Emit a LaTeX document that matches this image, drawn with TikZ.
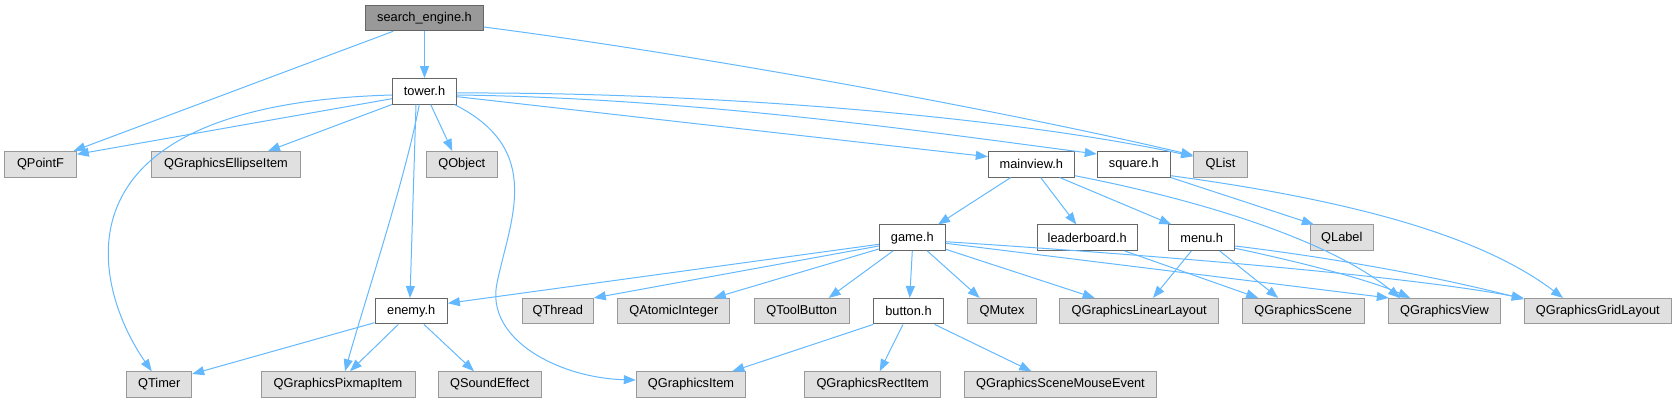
\documentclass[tikz,border=0pt]{standalone}
\usepackage{fontspec}
\setmainfont{Liberation Sans}
\usetikzlibrary{arrows.meta}
\definecolor{edgec}{HTML}{63B8FF}
\definecolor{hdrb}{HTML}{666666}
\definecolor{extb}{HTML}{999999}
\definecolor{extf}{HTML}{E0E0E0}
\definecolor{rootf}{HTML}{999999}
\begin{document}
\begin{tikzpicture}[x=1pt,y=-1pt,
  every node/.style={font=\fontsize{12.8}{15}\selectfont, inner sep=0pt, minimum height=25.5pt, line width=1pt, anchor=center},
  hdr/.style={draw=hdrb, fill=white},
  ext/.style={draw=extb, fill=extf},
  root/.style={draw=hdrb, fill=rootf},
  bw/.style={minimum width=#1pt},
  edge/.style={draw=edgec, line width=1pt, -{Triangle[length=12pt,width=9pt]}}]
\useasboundingbox (0,0) rectangle (1677,403);
% row 0
\node[root,bw=117.6] (se) at (424.5,18) {search\_engine.h};
% row 1
\node[hdr,bw=64.4] (tower) at (424.5,91.3) {tower.h};
% row 2
\node[ext,bw=71.6] (qpointf) at (40.5,164.3) {QPointF};
\node[ext,bw=148.6] (ellipse) at (226,164.3) {QGraphicsEllipseItem};
\node[ext,bw=71] (qobject) at (461.8,164.3) {QObject};
\node[hdr,bw=86] (mainview) at (1031.3,164.3) {mainview.h};
\node[hdr,bw=73] (square) at (1133.8,164.3) {square.h};
\node[ext,bw=53.6] (qlist) at (1220.5,164.3) {QList};
% row 3
\node[hdr,bw=66] (game) at (912.3,237.7) {game.h};
\node[hdr,bw=100.3] (leaderboard) at (1087.2,237.7) {leaderboard.h};
\node[hdr,bw=66] (menu) at (1201.7,237.7) {menu.h};
\node[ext,bw=63] (qlabel) at (1341.8,237.7) {QLabel};
% row 4
\node[hdr,bw=72.3] (enemy) at (411.2,311.2) {enemy.h};
\node[ext,bw=71] (qthread) at (557.8,311.2) {QThread};
\node[ext,bw=112.3] (qatomic) at (673.8,311.2) {QAtomicInteger};
\node[ext,bw=94.7] (qtool) at (801.7,311.2) {QToolButton};
\node[hdr,bw=69.6] (button) at (908.5,311.2) {button.h};
\node[ext,bw=68.6] (qmutex) at (1002,311.2) {QMutex};
\node[ext,bw=159] (linear) at (1139.2,311.2) {QGraphicsLinearLayout};
\node[ext,bw=121.7] (scene) at (1303.2,311.2) {QGraphicsScene};
\node[ext,bw=112.4] (view) at (1444.5,311.2) {QGraphicsView};
\node[ext,bw=147] (grid) at (1597.8,311.2) {QGraphicsGridLayout};
% row 5
\node[ext,bw=65] (qtimer) at (159.2,384.5) {QTimer};
\node[ext,bw=154] (pixmap) at (338,384.5) {QGraphicsPixmapItem};
\node[ext,bw=103] (sound) at (489.8,384.5) {QSoundEffect};
\node[ext,bw=109.4] (gitem) at (691,384.5) {QGraphicsItem};
\node[ext,bw=136] (rect) at (872.7,384.5) {QGraphicsRectItem};
\node[ext,bw=192.4] (mouse) at (1060.5,384.5) {QGraphicsSceneMouseEvent};
% search_engine.h
\draw[edge] (se.south) -- (tower.north);
\draw[edge] ([xshift=-31.2pt]se.south) -- ([xshift=33pt]qpointf.north);
\draw[edge] ([yshift=-9pt]se.east) .. controls (700,55) and (1000,110) .. ([yshift=9pt]qlist.west);
% tower.h
\draw[edge] ([yshift=-7.4pt]tower.west) -- ([yshift=10pt]qpointf.east);
\draw[edge] ([yshift=-3.7pt]tower.west) .. controls (40,105) and (95,290) .. ([xshift=-7.5pt]qtimer.north);
\draw[edge] (tower.south west) -- ([xshift=42pt]ellipse.north);
\draw[edge] ([xshift=6.2pt]tower.south) -- ([xshift=-9.5pt]qobject.north);
\draw[edge] ([xshift=-5.2pt]tower.south) .. controls (405,180) and (365,300) .. ([xshift=7pt]pixmap.north);
\draw[edge] ([xshift=-8.5pt]tower.south) -- ([xshift=-1.2pt]enemy.north);
\draw[edge] ([xshift=-2.7pt]tower.south east) .. controls (545,150) and (510,220) .. (497,283) .. controls (485,340) and (560,378) .. ([yshift=4.5pt]gitem.west);
\draw[edge] ([yshift=-5.4pt]tower.east) -- ([yshift=7.6pt]mainview.west);
\draw[edge] ([yshift=-3.7pt]tower.east) .. controls (700,98) and (950,135) .. ([yshift=10.3pt]square.west);
\draw[edge] ([yshift=-1.7pt]tower.east) .. controls (700,92) and (1000,115) .. ([yshift=8pt]qlist.west);
% mainview.h
\draw[edge] ([xshift=-20.6pt]mainview.south) -- ([xshift=25.7pt]game.north);
\draw[edge] ([xshift=9.4pt]mainview.south) -- ([xshift=-10.9pt]leaderboard.north);
\draw[edge] ([xshift=28.4pt]mainview.south) -- ([xshift=-30.4pt]menu.north);
\draw[edge] ([yshift=-11.4pt]mainview.east) .. controls (1200,200) and (1330,240) .. ([xshift=-44.5pt]view.north);
% square.h
\draw[edge] (square.south east) -- ([xshift=-28pt]qlabel.north);
\draw[edge] ([yshift=-11.4pt]square.east) .. controls (1350,200) and (1480,235) .. ([xshift=-34.8pt]grid.north);
% game.h
\draw[edge] ([yshift=-6.6pt]game.west) -- ([yshift=7.9pt]enemy.east);
\draw[edge] ([yshift=-8.3pt]game.west) -- (qthread.north east);
\draw[edge] ([yshift=-11.3pt]game.west) -- ([xshift=40pt]qatomic.north);
\draw[edge] ([xshift=-19.3pt]game.south) -- ([xshift=27pt]qtool.north);
\draw[edge] (game.south) -- ([xshift=1.2pt]button.north);
\draw[edge] ([xshift=15pt]game.south) -- ([xshift=-22.3pt]qmutex.north);
\draw[edge] ([yshift=-11.6pt]game.east) -- ([xshift=-44.5pt]linear.north);
\draw[edge] ([yshift=-5.6pt]game.east) -- ([xshift=1pt]view.north west);
\draw[edge] ([yshift=-4pt]game.east) .. controls (1150,255) and (1400,275) .. ([yshift=13pt]grid.west);
% leaderboard.h, menu.h
\draw[edge] ([xshift=37.5pt]leaderboard.south) -- ([xshift=-45pt]scene.north);
\draw[edge] ([xshift=-10.4pt]menu.south) -- ([xshift=13.8pt]linear.north);
\draw[edge] ([xshift=18pt]menu.south) -- ([xshift=-25pt]scene.north);
\draw[edge] ([yshift=-10.6pt]menu.east) .. controls (1300,262) and (1370,280) .. ([xshift=-34.5pt]view.north);
\draw[edge] ([yshift=-8.3pt]menu.east) .. controls (1350,260) and (1450,280) .. ([yshift=12pt]grid.west);
% enemy.h
\draw[edge] ([yshift=-11.5pt]enemy.west) -- ([yshift=10.5pt]qtimer.east);
\draw[edge] ([xshift=-12.9pt]enemy.south) -- ([xshift=12pt]pixmap.north);
\draw[edge] ([xshift=12.8pt]enemy.south) -- ([xshift=-15.8pt]sound.north);
% button.h
\draw[edge] (button.south west) -- ([xshift=41.3pt]gitem.north);
\draw[edge] ([xshift=-5.5pt]button.south) -- ([xshift=7pt]rect.north);
\draw[edge] ([xshift=26.2pt]button.south) -- ([xshift=-29.2pt]mouse.north);
\end{tikzpicture}
\end{document}
